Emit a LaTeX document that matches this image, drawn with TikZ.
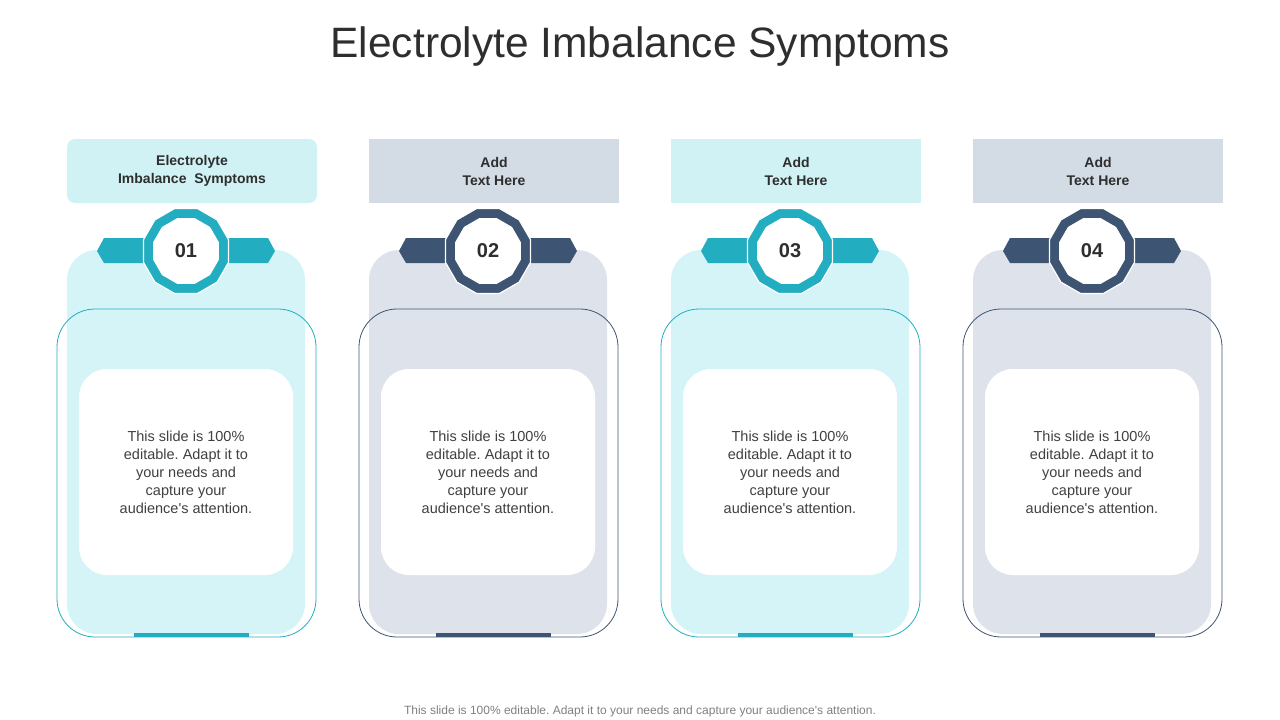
\documentclass[tikz,border=0pt]{standalone}
\usepackage{fontspec}
\setmainfont{Liberation Sans}
\usetikzlibrary{shapes.geometric}
\frenchspacing

\definecolor{tealmain}{HTML}{22AEC0}
\definecolor{navymain}{HTML}{3D5472}
\definecolor{tealpale}{HTML}{D5F4F7}
\definecolor{navypale}{HTML}{DEE3EB}
\definecolor{tealhead}{HTML}{D0F2F5}
\definecolor{navyhead}{HTML}{D3DBE5}
\definecolor{inktext}{HTML}{2E2E2E}
\definecolor{bodytext}{HTML}{404040}
\definecolor{foottext}{HTML}{808080}

\begin{document}
\begin{tikzpicture}[
    x=1pt, y=-1pt,
    every node/.style={inner sep=0pt, outer sep=0pt},
    headbox/.style={rectangle, minimum width=250pt, minimum height=64pt, align=center,
      text=inktext, font=\fontsize{14}{18}\selectfont\bfseries},
    panelbox/.style={rectangle, rounded corners=30pt, minimum width=238pt, minimum height=384pt},
    framebox/.style={rectangle, rounded corners=38pt, draw, line width=0.8pt,
      minimum width=259pt, minimum height=328pt},
    textbox/.style={rectangle, fill=white, rounded corners=28pt, minimum width=214pt,
      minimum height=206pt, align=center, text=bodytext, font=\fontsize{14.5}{18}\selectfont},
    ringpoly/.style={regular polygon, regular polygon sides=12, minimum size=88pt,
      draw=white, line width=1.2pt},
    holepoly/.style={regular polygon, regular polygon sides=12, minimum size=68pt, fill=white,
      text=inktext, font=\fontsize{20}{24}\selectfont\bfseries}
  ]
  \useasboundingbox (0,0) rectangle (1280,720);

  \node (title) [text=inktext, font=\fontsize{42.5}{50}\selectfont] at (640,47)
    {Electrolyte Imbalance Symptoms};

  \foreach \i/\main/\pale/\head/\rc/\label [evaluate=\i as \dx using 302*(\i-1)] in {
      1/tealmain/tealpale/tealhead/8pt/{Electrolyte\\Imbalance\ \ Symptoms},
      2/navymain/navypale/navyhead/0pt/{Add\\Text Here},
      3/tealmain/tealpale/tealhead/0pt/{Add\\Text Here},
      4/navymain/navypale/navyhead/0pt/{Add\\Text Here}} {
    \node (panel\i) [panelbox, fill=\pale] at (186+\dx,442) {};
    \node (frame\i) [framebox, draw=\main] at (186.5+\dx,473) {};
    \node (body\i) [textbox] at (186+\dx,472)
      {This slide is 100\%\\editable. Adapt it to\\your needs and\\capture your\\audience\textquotesingle s attention.};
    \fill[\main] (97+\dx,251) -- (104+\dx,238) -- (268+\dx,238) -- (275+\dx,251)
      -- (268+\dx,263) -- (104+\dx,263) -- cycle;
    \node (ring\i) [ringpoly, fill=\main] at (186+\dx,251) {};
    \node (num\i) [holepoly] at (ring\i.center) {0\i};
    \fill[\main] (134+\dx,633) rectangle (249+\dx,637);
    \node (head\i) [headbox, fill=\head, rounded corners=\rc] at (192+\dx,171) {\label};
  }

  \node (foot) [text=foottext, font=\fontsize{12}{14}\selectfont] at (640,711)
    {This slide is 100\% editable. Adapt it to your needs and capture your audience\textquotesingle s attention.};
\end{tikzpicture}
\end{document}
